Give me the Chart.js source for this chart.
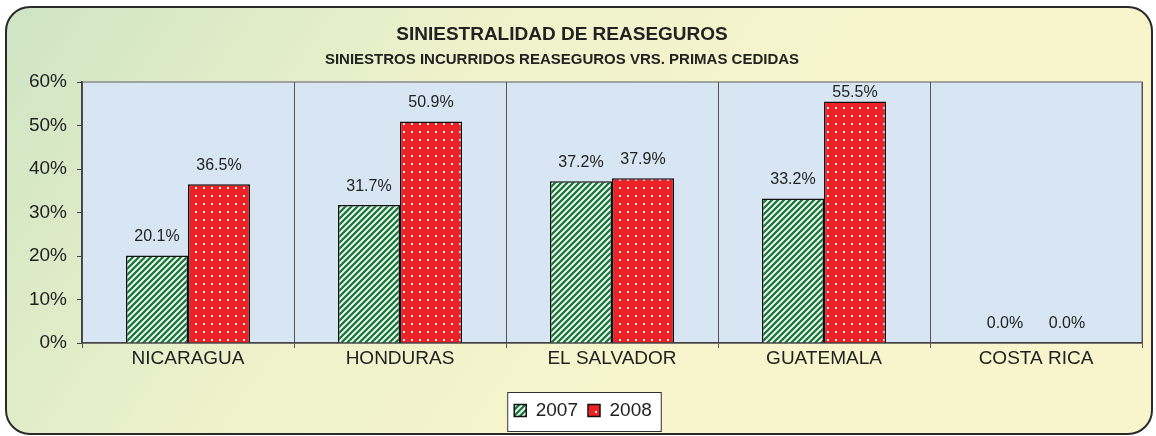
<!DOCTYPE html>
<html>
<head>
<meta charset="utf-8">
<script src="https://cdn.jsdelivr.net/npm/chart.js@4.4.1/dist/chart.umd.min.js"></script>
<style>
  html, body { margin: 0; padding: 0; background: #fff; }
  #wrap { width: 1156px; height: 436px; position: relative; }
</style>
</head>
<body>
<div id="wrap"><canvas id="chart"></canvas></div>
<script>
// Siniestralidad de reaseguros: 2007 vs 2008, percent of ceded premiums.
const categories = ["NICARAGUA", "HONDURAS", "EL SALVADOR", "GUATEMALA", "COSTA RICA"];
const seriesLabels = ["2007", "2008"];
const values2007 = [20.1, 31.7, 37.2, 33.2, 0.0];
const values2008 = [36.5, 50.9, 37.9, 55.5, 0.0];
const yMax = 60;
const yStep = 10;
const titleText = "SINIESTRALIDAD DE REASEGUROS";
const subtitleText = "SINIESTROS INCURRIDOS REASEGUROS VRS. PRIMAS CEDIDAS";

const FONT = '"Liberation Sans", Arial, sans-serif';
const TEXT = "#222";

function stripePattern() {
  const c = document.createElement("canvas");
  c.width = 6; c.height = 6;
  const g = c.getContext("2d");
  g.fillStyle = "#ffffff";
  g.fillRect(0, 0, 6, 6);
  g.strokeStyle = "#1b7b3b";
  g.lineWidth = 2.4;
  g.beginPath();
  g.moveTo(-1, 7); g.lineTo(7, -1);
  g.moveTo(-1, 1); g.lineTo(1, -1);
  g.moveTo(5, 7); g.lineTo(7, 5);
  g.stroke();
  return g.createPattern(c, "repeat");
}

function dotPattern() {
  const c = document.createElement("canvas");
  c.width = 8; c.height = 8;
  const g = c.getContext("2d");
  g.fillStyle = "#ec2227";
  g.fillRect(0, 0, 8, 8);
  g.fillStyle = "#fbe3e3";
  g.fillRect(3, 3, 2, 2);
  return g.createPattern(c, "repeat");
}

function roundRect(ctx, x, y, w, h, r) {
  ctx.beginPath();
  ctx.moveTo(x + r, y);
  ctx.lineTo(x + w - r, y);
  ctx.arcTo(x + w, y, x + w, y + r, r);
  ctx.lineTo(x + w, y + h - r);
  ctx.arcTo(x + w, y + h, x + w - r, y + h, r);
  ctx.lineTo(x + r, y + h);
  ctx.arcTo(x, y + h, x, y + h - r, r);
  ctx.lineTo(x, y + r);
  ctx.arcTo(x, y, x + r, y, r);
  ctx.closePath();
}

// frame, plot background, legend box, titles
const decorPlugin = {
  id: "decor",
  beforeDraw(chart) {
    const { ctx, chartArea } = chart;
    ctx.save();
    const grad = ctx.createLinearGradient(0, 0, 620, 430);
    grad.addColorStop(0, "#cde4c4");
    grad.addColorStop(0.55, "#eef2cb");
    grad.addColorStop(1, "#f8f5cc");
    roundRect(ctx, 6, 7, 1146, 427, 24);
    ctx.fillStyle = grad;
    ctx.fill();
    ctx.lineWidth = 2;
    ctx.strokeStyle = "#2a2a2a";
    ctx.stroke();

    ctx.fillStyle = "#d8e6f3";
    ctx.fillRect(chartArea.left, chartArea.top, chartArea.right - chartArea.left, chartArea.bottom - chartArea.top);
    ctx.strokeStyle = "#8c8c8c";
    ctx.lineWidth = 1.5;
    ctx.strokeRect(chartArea.left, chartArea.top, chartArea.right - chartArea.left, chartArea.bottom - chartArea.top);

    const hb = chart.legend && chart.legend.legendHitBoxes;
    if (hb && hb.length) {
      const last = hb[hb.length - 1];
      const x0 = hb[0].left - 7;
      const x1 = last.left + last.width + 9;
      const y0 = hb[0].top - 9;
      const y1 = hb[0].top + hb[0].height + 11;
      ctx.fillStyle = "#ffffff";
      ctx.fillRect(x0, y0, x1 - x0, y1 - y0);
      ctx.strokeStyle = "#333";
      ctx.lineWidth = 1;
      ctx.strokeRect(x0 + 0.5, y0 + 0.5, x1 - x0, y1 - y0);
    }

    ctx.fillStyle = TEXT;
    ctx.textAlign = "center";
    ctx.textBaseline = "middle";
    ctx.font = "bold 19px " + FONT;
    ctx.fillText(titleText, 562, 35);
    ctx.font = "bold 15px " + FONT;
    ctx.fillText(subtitleText, 562, 60);
    ctx.restore();
  }
};

// value labels above bars, kept inside the plot area
const valueLabelPlugin = {
  id: "valueLabels",
  afterDatasetsDraw(chart) {
    const { ctx, chartArea } = chart;
    ctx.save();
    ctx.font = "16px " + FONT;
    ctx.fillStyle = TEXT;
    ctx.textAlign = "center";
    ctx.textBaseline = "middle";
    chart.data.datasets.forEach((ds, di) => {
      chart.getDatasetMeta(di).data.forEach((bar, i) => {
        const y = Math.max(bar.y - 19, chartArea.top + 11);
        ctx.fillText(ds.data[i].toFixed(1) + "%", bar.x, y);
      });
    });
    ctx.restore();
  }
};

new Chart(document.getElementById("chart"), {
  type: "bar",
  data: {
    labels: categories,
    datasets: [
      { label: seriesLabels[0], data: values2007, backgroundColor: stripePattern(), borderColor: "#111", borderWidth: 1.5, borderSkipped: "start" },
      { label: seriesLabels[1], data: values2008, backgroundColor: dotPattern(), borderColor: "#111", borderWidth: 1.5, borderSkipped: "start" },
    ],
  },
  options: {
    responsive: true,
    maintainAspectRatio: false,
    animation: false,
    devicePixelRatio: 1,
    layout: { padding: { left: 24, right: 14, top: 82, bottom: 6 } },
    datasets: { bar: { categoryPercentage: 0.585, barPercentage: 1.0 } },
    scales: {
      x: {
        grid: { color: "#555", lineWidth: 1, drawTicks: true, tickLength: 5, offset: true },
        border: { color: "#444", width: 1.5 },
        ticks: { color: TEXT, font: { family: FONT, size: 19 }, padding: -1, maxRotation: 0 },
        afterFit(scale) { scale.height = 48; },
      },
      y: {
        min: 0, max: yMax,
        grid: { drawOnChartArea: false, drawTicks: true, tickLength: 5, color: "#444" },
        border: { color: "#444", width: 1.5 },
        ticks: { stepSize: yStep, color: TEXT, font: { family: FONT, size: 19 }, padding: 10, callback: (v) => v + "%" },
        afterFit(scale) { scale.width = 58; },
      },
    },
    plugins: {
      legend: {
        position: "bottom",
        labels: { color: TEXT, font: { family: FONT, size: 19 }, boxWidth: 12, boxHeight: 12, padding: 10 },
      },
      title: { display: false },
      tooltip: { enabled: false },
    },
  },
  plugins: [decorPlugin, valueLabelPlugin],
});
</script>
</body>
</html>
